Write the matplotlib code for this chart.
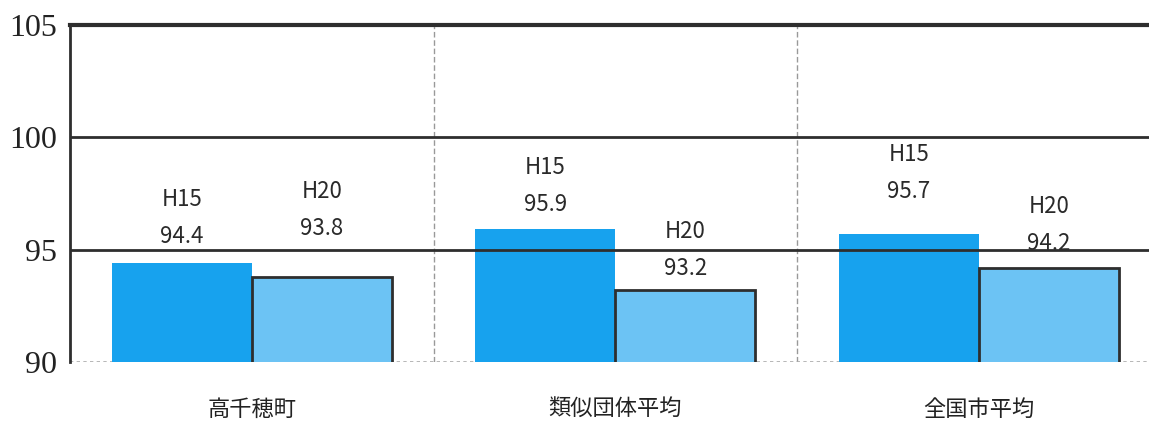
import numpy as np
import matplotlib.pyplot as plt

#-------------------------------------------------
#                DATA
#-------------------------------------------------

categories = ['高千穂町', '類似団体平均', '全国市平均']
years = ['H15', 'H20']
h15 = [94.4, 95.9, 95.7]
h20 = [93.8, 93.2, 94.2]
yticks = [90, 95, 100, 105]

# label offset above bar top (pixels) -- labels sit at uneven heights in the original
off_h15 = [27, 25, 42]
off_h20 = [48, 22, 24]

#-------------------------------------------------
#                GRAPH CONFIGURATION
#-------------------------------------------------

plt.rcParams['font.family'] = ['Noto Sans CJK JP', 'DejaVu Sans']

c_h15 = '#17a2ee'
c_h20 = '#6cc3f4'
c_line = '#2e2e2e'

fig = plt.figure(figsize=(11.49, 4.21), dpi=100)
ax = fig.add_axes([70 / 1149, 1 - 362 / 421, 1090.5 / 1149, 337 / 421])

x = np.arange(len(categories))
w = 0.385

ax.bar(x - w / 2, h15, w, color=c_h15, edgecolor=c_h15, linewidth=0, zorder=2)
ax.bar(x + w / 2, h20, w, color=c_h20, edgecolor=c_line, linewidth=2, zorder=2)

ax.set_xlim(-0.5, 2.5)
ax.set_ylim(90, 105)

# horizontal grid lines
for v in [95, 100]:
    ax.axhline(v, color=c_line, lw=2, zorder=3)
# vertical separators
for v in [0.5, 1.5]:
    ax.axvline(v, color='#999999', lw=1, ls=(0, (4, 2)), zorder=1)

for s in ['right', 'bottom']:
    ax.spines[s].set_visible(False)
ax.spines['top'].set_linewidth(3)
ax.spines['top'].set_color(c_line)
ax.spines['left'].set_linewidth(2)
ax.spines['left'].set_color(c_line)
ax.axhline(90, color='#aaaaaa', lw=1.2, ls=(0, (2, 2)), zorder=1)

ax.set_yticks(yticks)
ax.set_yticklabels([str(t) for t in yticks], family='Liberation Serif', fontsize=23, color='#222222')
ax.tick_params(axis='y', length=0, pad=9)
ax.set_xticks(x)
ax.set_xticklabels(categories, fontsize=16, color='#222222')
ax.tick_params(axis='x', length=0, pad=26)

# labels above bars
for i in range(len(categories)):
    for xx, val, off, yr in [(x[i] - w / 2, h15[i], off_h15[i], years[0]),
                             (x[i] + w / 2, h20[i], off_h20[i], years[1])]:
        ax.annotate('%.1f' % val, (xx, val), xytext=(0, off * 0.72), textcoords='offset points',
                    ha='center', va='center', fontsize=16, color='#2a2a2a', zorder=1)
        ax.annotate(yr, (xx, val), xytext=(0, (off + 37) * 0.72), textcoords='offset points',
                    ha='center', va='center', fontsize=16, color='#2a2a2a', zorder=1)

plt.savefig('out.png', dpi=100)
